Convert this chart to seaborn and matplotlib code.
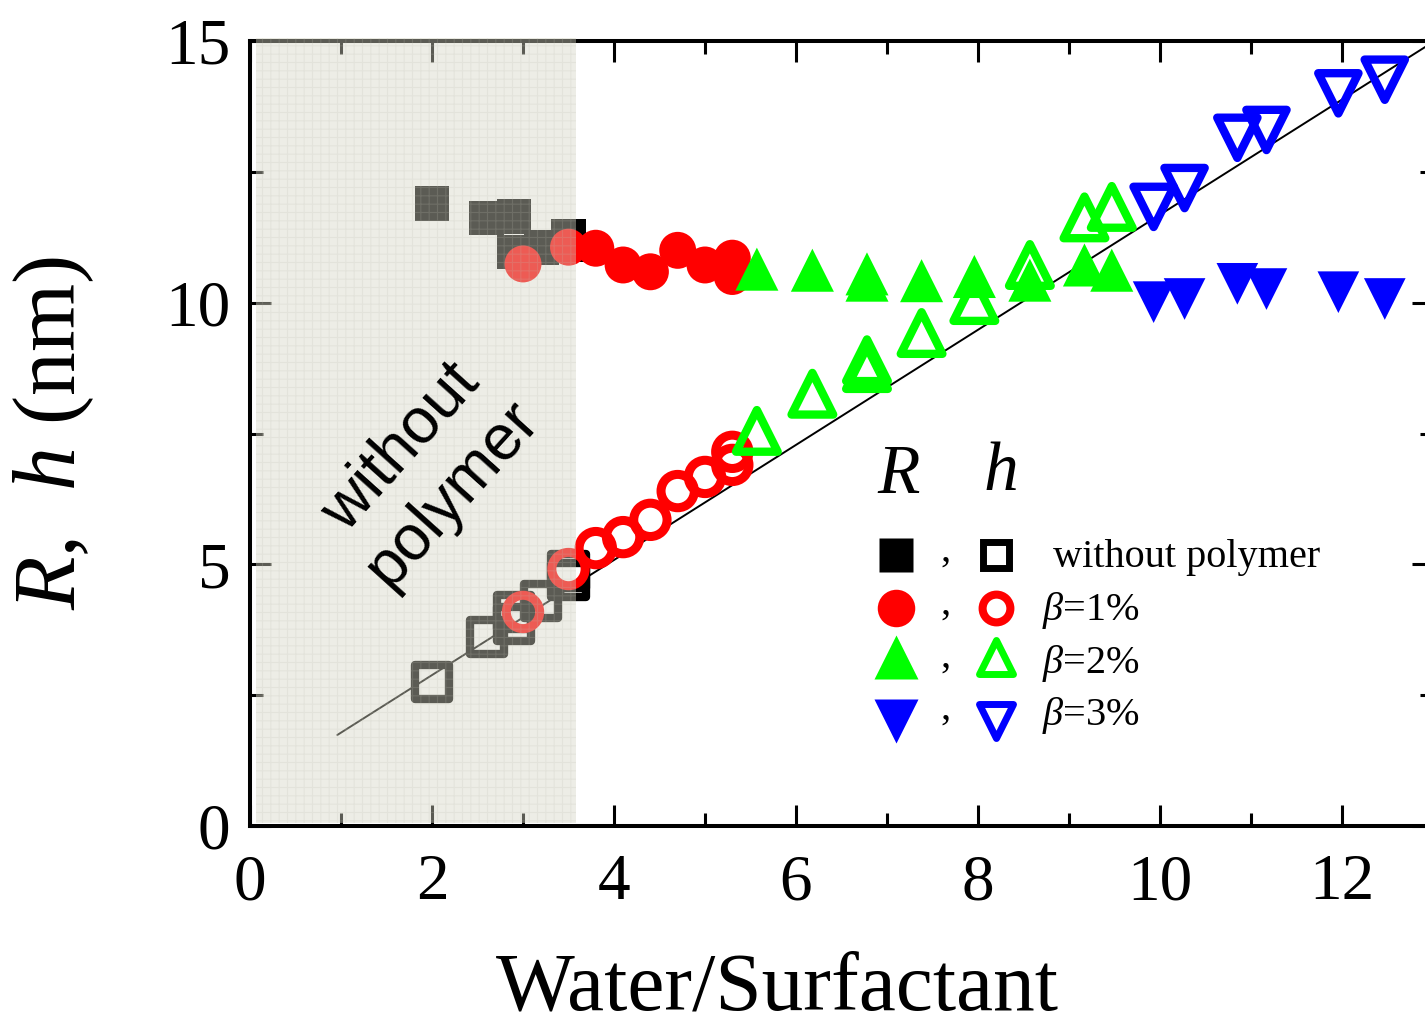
import numpy as np
import matplotlib
matplotlib.use("Agg")
import matplotlib.pyplot as plt
import seaborn as sns
from matplotlib.markers import MarkerStyle
from matplotlib.patches import Rectangle

# ---------------- data ----------------
np_x = [2.0, 2.6, 2.9, 2.9, 3.2, 3.5, 3.5]
np_R = [11.9, 11.62, 11.64, 10.97, 11.06, 11.27, 11.1]
np_h = [2.75, 3.61, 4.09, 3.86, 4.30, 4.87, 4.70]

b1_x = [3.0, 3.5, 3.8, 4.1, 4.4, 4.7, 5.0, 5.3, 5.3]
b1_R = [10.74, 11.06, 11.04, 10.72, 10.59, 11.0, 10.72, 10.85, 10.5]
b1_h = [4.09, 4.91, 5.31, 5.52, 5.85, 6.4, 6.67, 7.15, 6.9]

b2_x = [5.57, 6.18, 6.78, 6.78, 7.38, 7.96, 8.57, 9.17, 9.47]
b2_R = [10.64, 10.62, 10.55, 10.43, 10.42, 10.5, 10.43, 10.72, 10.62]
b2_h = [7.55, 8.26, 8.9, 8.75, 9.42, 10.05, 10.72, 11.63, 11.83]

b3_x = [9.93, 10.27, 10.85, 11.17, 11.96, 12.47]
b3_R = [10.01, 10.07, 10.36, 10.26, 10.2, 10.07]
b3_h = [11.83, 12.19, 13.15, 13.3, 14.0, 14.26]

fit_x = [0.96, 13.0]
fit_y = [1.74, 14.98]

x_major = [0, 2, 4, 6, 8, 10, 12]
y_major = [0, 5, 10, 15]
legend_labels = ["without polymer", r"$\beta$=1%", r"$\beta$=2%", r"$\beta$=3%"]

# ---------------- style ----------------
sns.set_theme(style="white")
plt.rcParams['font.family'] = ['Liberation Serif', 'DejaVu Serif']
plt.rcParams['mathtext.fontset'] = 'custom'
plt.rcParams['mathtext.rm'] = 'Liberation Serif'
plt.rcParams['mathtext.it'] = 'Liberation Serif:italic'
plt.rcParams['hatch.linewidth'] = 0.8
for k in ['text.color', 'axes.labelcolor', 'xtick.color', 'ytick.color',
          'xtick.labelcolor', 'ytick.labelcolor', 'axes.edgecolor']:
    plt.rcParams[k] = 'black'

RED, GREEN, BLUE, BLACK = '#ff0000', '#00ff00', '#0000ff', '#000000'

fig = plt.figure(figsize=(14.25, 10.31), dpi=100)
ax = fig.add_axes([250/1425, 205/1031, 1183/1425, 785/1031])
ax.set_facecolor('white')

tri_up = MarkerStyle('^', joinstyle='round')
tri_dn = MarkerStyle('v', joinstyle='round')

def filled(x, y, m, s, c):
    sns.scatterplot(x=x, y=y, marker=m, s=s, facecolor=c, edgecolor='none',
                    linewidth=0, ax=ax, zorder=4, clip_on=False)

def hollow(x, y, m, s, c, lw):
    sns.scatterplot(x=x, y=y, marker=m, s=s, facecolor='none', edgecolor=c,
                    linewidth=lw, ax=ax, zorder=4, clip_on=False)

# fit line
sns.lineplot(x=fit_x, y=fit_y, color='black', lw=1.4, ax=ax, zorder=3)

filled(np_x, np_R, 's', 25**2, BLACK)
hollow(np_x, np_h, 's', 24.5**2, BLACK, 6.0)
filled(b1_x, b1_R, 'o', 26.6**2, RED)
hollow(b1_x, b1_h, 'o', 24**2, RED, 6.5)
filled(b2_x, b2_R, tri_up, 31**2, GREEN)
hollow(b2_x, b2_h, tri_up, 30**2, GREEN, 6.0)
filled(b3_x, b3_R, tri_dn, 30**2, BLUE)
hollow(b3_x, b3_h, tri_dn, 29**2, BLUE, 6.0)

# ---------------- axes ----------------
ax.set_xlim(0, 13)
ax.set_ylim(0, 15)
for sp in ax.spines.values():
    sp.set_visible(True)
    sp.set_linewidth(2.9)
    sp.set_color('black')
ax.set_xticks(x_major)
ax.set_xticks(np.arange(1, 13, 2), minor=True)
ax.set_yticks(y_major)
ax.set_yticks([2.5, 7.5, 12.5], minor=True)
ax.tick_params(which='both', direction='in', top=True, right=True,
               bottom=True, left=True, width=2.2, color='black',
               labelcolor='black')
ax.tick_params(which='major', length=15)
ax.tick_params(which='minor', length=9.5)
ax.tick_params(axis='x', which='major', labelsize=47, pad=20)
ax.tick_params(axis='y', which='major', labelsize=47, pad=14)
ax.grid(False)

ax.set_xlabel('Water/Surfactant', fontsize=60, color='black')
ax.xaxis.set_label_coords(0.446, -0.16)
ax.set_ylabel(r'$R$,  $h$ (nm)', fontsize=63, color='black')
ax.yaxis.set_label_coords(-0.13, 0.5)

# shaded "without polymer" region
ax.add_patch(Rectangle((0.066, 0.06), 3.58 - 0.066, 15.06 - 0.06,
                       facecolor=(0.843, 0.843, 0.773), alpha=0.427,
                       edgecolor='none', zorder=10, clip_on=False))
ax.add_patch(Rectangle((0.066, 0.06), 3.58 - 0.066, 15.06 - 0.06,
                       facecolor='none', edgecolor=(0.75, 0.75, 0.70, 0.2),
                       hatch='++', linewidth=0, zorder=10.5, clip_on=False))
ax.text(1.94, 6.79, 'without\npolymer', fontsize=46, family='Liberation Sans',
        rotation=48, ha='center', va='center', rotation_mode='anchor',
        linespacing=1.2, multialignment='center', zorder=12, color='black')

# ---------------- legend ----------------
T = ax.transAxes
ax.text(0.5486, 0.446, 'R', fontsize=50, fontstyle='italic', ha='center',
        va='center', transform=T)
ax.text(0.635, 0.450, 'h', fontsize=50, fontstyle='italic', ha='center',
        va='center', transform=T)

row_m = [0.345, 0.2777, 0.2153, 0.1338]
row_t = [0.330, 0.2624, 0.1949, 0.1287]
fx, cx, ox = 0.546, 0.5883, 0.6306
text_x = [0.6788, 0.6695, 0.6695, 0.6695]
specs = [
    ('s', BLACK, 25, 19, 5.0),
    ('o', RED, 27, 20, 5.8),
    (tri_up, GREEN, 31, 24, 5.0),
    (tri_dn, BLUE, 31, 24, 5.0),
]
for (m, c, fs, os_, mew), ym, yt, tx, lab in zip(specs, row_m, row_t, text_x, legend_labels):
    ax.plot([fx], [ym], marker=m, ms=fs, color=c, mec='none', ls='none',
            transform=T, clip_on=False)
    ax.plot([ox], [ym], marker=m, ms=os_, mfc='none', mec=c, mew=mew,
            ls='none', transform=T, clip_on=False)
    ax.text(cx, yt + 0.008, ',', fontsize=29, ha='center', va='baseline',
            transform=T)
    ax.text(tx, yt, lab, fontsize=29, ha='left', va='baseline', transform=T)

fig.savefig('out.png', dpi=100)
